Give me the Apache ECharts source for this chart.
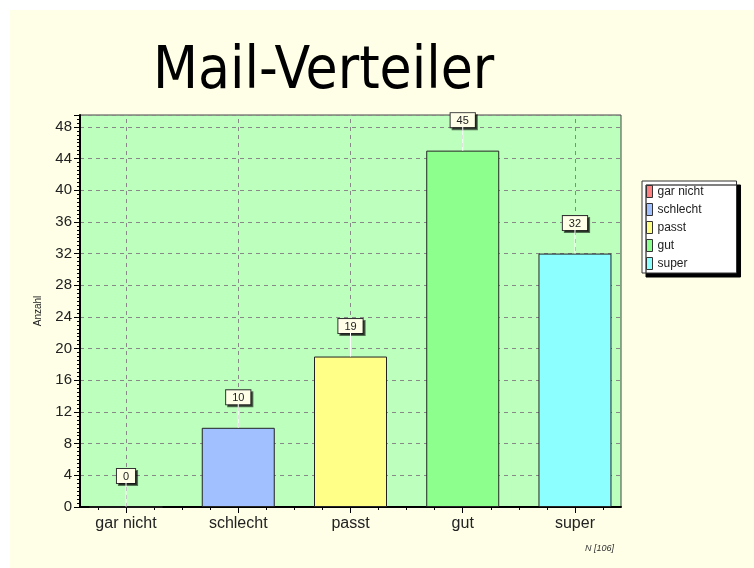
<!DOCTYPE html>
<html><head><meta charset="utf-8">
<script src="https://cdn.jsdelivr.net/npm/echarts@6/dist/echarts.min.js"></script>
<style>
html,body{margin:0;padding:0;background:#ffffff;}
#wrap{position:relative;width:754px;height:568px;background:#ffffff;overflow:hidden;}
#chart{position:absolute;left:10px;top:10px;width:744px;height:558px;background:#FFFFE8;}
</style></head>
<body><div id="wrap"><div id="chart"></div></div>
<script>
const categories = ['gar nicht', 'schlecht', 'passt', 'gut', 'super'];
const values = [0, 10, 19, 45, 32];
const colors = ['#FF8080', '#A0C0FF', '#FFFF88', '#8CFF8C', '#8CFFFF'];
const yTicks = [0, 4, 8, 12, 16, 20, 24, 28, 32, 36, 40, 44, 48];
const xMajorTicks = [0, 1, 2, 3, 4];
const xMinorTicks = [-0.25, 0.25, 0.5, 0.75, 1.25, 1.5, 1.75, 2.25, 2.5, 2.75, 3.25, 3.5, 3.75, 4.25];
const titleText = 'Mail-Verteiler';
const yName = 'Anzahl';
const footNote = 'N [106]';

const chart = echarts.init(document.getElementById('chart'), null, {renderer: 'canvas'});
const fontAx = 'Arial, "Liberation Sans", sans-serif';

const series = categories.map((c, i) => ({
  name: c,
  type: 'bar',
  xAxisIndex: 0,
  z: 3,
  data: [[i, values[i]]],
  barWidth: 73,
  barGap: '-100%',
  itemStyle: {color: colors[i], borderColor: '#222', borderWidth: 1},
  label: {
    show: true, position: 'top', distance: 0,
    formatter: p => '{box|' + p.value[1] + '}\n{stem|}',
    rich: {
      box: {
        fontSize: 11, fontFamily: fontAx, color: '#222', align: 'center',
        backgroundColor: '#FFFFE8', borderColor: '#333', borderWidth: 1,
        padding: [2, 6, 1, 6], lineHeight: 13,
        shadowColor: 'rgba(0,0,0,0.55)', shadowOffsetX: 2, shadowOffsetY: 2, shadowBlur: 0
      },
      stem: {width: 1, height: 24, lineHeight: 24, backgroundColor: '#ffffff', align: 'center'}
    }
  }
}));

series.unshift({
  type: 'line', data: [], z: 1, silent: true,
  markLine: {
    silent: true, symbol: 'none', label: {show: false}, z: 1,
    lineStyle: {color: '#888', type: [4, 4], width: 1},
    data: xMajorTicks.map(v => ({xAxis: v}))
  }
});

chart.setOption({
  animation: false,
  backgroundColor: 'transparent',
  title: {
    text: titleText, left: 138, top: 29,
    textStyle: {fontFamily: '"Liberation Sans Narrow", "DejaVu Sans Condensed", sans-serif', fontWeight: 'normal', fontSize: 58, color: '#000'}
  },
  legend: {
    orient: 'vertical', left: 632, top: 171,
    data: categories,
    icon: 'rect', itemWidth: 6, itemHeight: 12, itemGap: 5, itemTextGap: 5,
    padding: [4, 33, 3, 4],
    backgroundColor: '#ffffff', borderColor: '#333', borderWidth: 1,
    shadowColor: '#000', shadowOffsetX: 4, shadowOffsetY: 4, shadowBlur: 0,
    itemStyle: {borderColor: '#333', borderWidth: 1},
    textStyle: {fontFamily: fontAx, fontSize: 12, color: '#222'}
  },
  grid: {
    left: 70, top: 105, right: 133, bottom: 61,
    show: true, backgroundColor: '#BDFFBD', borderColor: '#444', borderWidth: 1
  },
  xAxis: [{
    type: 'value', min: -0.41, max: 4.41,
    axisLine: {show: true, onZero: false, lineStyle: {color: '#000', width: 2}},
    axisTick: {show: true, customValues: xMajorTicks, length: 6, lineStyle: {color: '#000', width: 1}},
    axisLabel: {customValues: xMajorTicks, formatter: v => categories[Math.round(v)] || '', fontSize: 16, fontFamily: fontAx, color: '#222', margin: 9},
    splitLine: {show: false}
  }, {
    type: 'value', min: -0.41, max: 4.41, position: 'bottom',
    axisLine: {show: false, onZero: false},
    axisTick: {show: true, customValues: xMinorTicks, length: 3, lineStyle: {color: '#000', width: 1}},
    axisLabel: {show: false},
    splitLine: {show: false}
  }],
  yAxis: {
    type: 'value', min: 0, max: 49.5, interval: 4,
    name: yName, nameLocation: 'middle', nameGap: 37, nameRotate: 90,
    nameTextStyle: {fontSize: 10, fontFamily: fontAx, color: '#222'},
    axisLine: {show: true, onZero: false, lineStyle: {color: '#000', width: 2}},
    axisTick: {show: true, length: 6, lineStyle: {color: '#000'}},
    minorTick: {show: true, splitNumber: 8, length: 3, lineStyle: {color: '#000'}},
    axisLabel: {formatter: v => yTicks.includes(v) ? String(v) : '', fontSize: 15, fontFamily: fontAx, color: '#222', margin: 8},
    splitLine: {show: true, lineStyle: {color: '#888', type: [4, 4], width: 1}}
  },
  graphic: [{
    type: 'text', right: 140, top: 534,
    style: {text: footNote, font: 'italic 9px Arial, "Liberation Sans", sans-serif', fill: '#333', textAlign: 'right'}
  }],
  series: series
});
</script></body></html>
